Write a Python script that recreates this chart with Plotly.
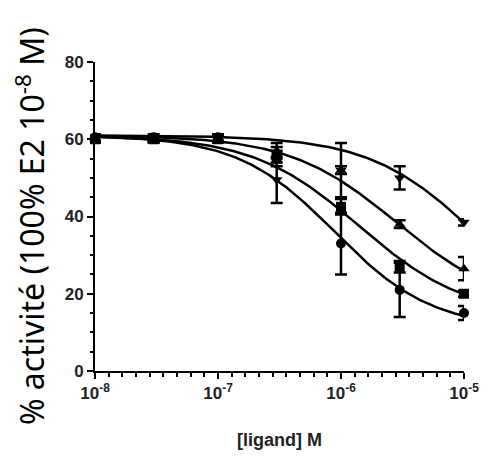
import numpy as np
import plotly.graph_objects as go

# concentrations (M)
conc = [1e-8, 3e-8, 1e-7, 3e-7, 1e-6, 3e-6, 1e-5]

# mean % activity and SEM for each ligand series
circle_y = [60.5, 60.5, 60.5, 56.0, 33.0, 21.0, 15.0]
circle_err = [0.8, 0.8, 0.8, 2.0, 8.0, 7.0, 1.8]
square_y = [60.0, 60.0, 60.0, 55.0, 42.5, 27.0, 20.0]
square_err = [0.8, 0.8, 0.8, 2.0, 2.0, 1.5, 0.8]
tri_up_y = [60.0, 60.0, 60.0, 57.0, 52.0, 38.0, 26.5]
tri_up_err = [0.8, 0.8, 0.8, 2.0, 7.0, 1.0, 3.0]
tri_down_y = [60.0, 60.0, 60.0, 49.5, 52.0, 50.0, 38.5]
tri_down_err = [0.8, 0.8, 0.8, 6.0, 1.0, 3.0, 0.8]

# fitted 4-parameter logistic parameters: top, bottom, logIC50, hill slope
circle_fit = (61.0, 11.0, -6.05, 1.1)
square_fit = (61.0, 14.0, -5.85, 1.0)
tri_up_fit = (61.0, 16.0, -5.55, 1.0)
tri_down_fit = (61.0, 10.0, -4.9, 1.0)

x_ticks = [-8, -7, -6, -5]
x_tick_text = ["10<sup>-8</sup>", "10<sup>-7</sup>", "10<sup>-6</sup>", "10<sup>-5</sup>"]
y_ticks = [0, 20, 40, 60, 80]

series = [
    ("circle", circle_y, circle_err, circle_fit),
    ("square", square_y, square_err, square_fit),
    ("triangle-up", tri_up_y, tri_up_err, tri_up_fit),
    ("triangle-down", tri_down_y, tri_down_err, tri_down_fit),
]

logx = np.log10(conc)
xs = np.linspace(-8, -5, 200)

fig = go.Figure()
for sym, y, err, (top, bot, lic, h) in series:
    curve = bot + (top - bot) / (1 + 10 ** ((xs - lic) * h))
    fig.add_trace(go.Scatter(x=xs, y=curve, mode="lines",
                             line=dict(color="black", width=2.5),
                             showlegend=False, hoverinfo="skip", cliponaxis=False))
for sym, y, err, fit in series:
    fig.add_trace(go.Scatter(
        x=logx, y=y, mode="markers",
        marker=dict(symbol=sym, size=10, color="black"),
        error_y=dict(type="data", array=err, visible=True, color="black",
                     thickness=2.5, width=6),
        showlegend=False, cliponaxis=False))

tickfont = dict(family="Liberation Sans", size=17, color="#222", weight="bold")

fig.update_layout(
    width=483, height=454,
    margin=dict(l=87, r=25, t=54, b=91),
    plot_bgcolor="white", paper_bgcolor="white",
    xaxis=dict(range=[-8, -5], tickmode="array", tickvals=x_ticks, ticktext=x_tick_text,
               showgrid=False, zeroline=False, showline=True, linecolor="black", linewidth=2,
               ticks="outside", ticklen=6, tickwidth=2, tickcolor="black", tickfont=tickfont,
               minor=dict(tick0=-8, dtick=1/9, ticks="outside", ticklen=4, tickwidth=2,
                          tickcolor="black", showgrid=False)),
    yaxis=dict(range=[0, 80], tickmode="array", tickvals=y_ticks,
               showgrid=False, zeroline=False, showline=True, linecolor="black", linewidth=2,
               ticks="outside", ticklen=6, tickwidth=2, tickcolor="black", tickfont=tickfont,
               minor=dict(tick0=0, dtick=5, ticks="outside", ticklen=3, tickwidth=2,
                          tickcolor="black", showgrid=False)),
    annotations=[
        dict(text="% activité (100% E2 10<sup>-8</sup> M)", xref="paper", yref="paper",
             x=-0.178, y=0.47, xanchor="center", yanchor="middle", textangle=-90,
             showarrow=False, borderpad=0,
             font=dict(family="Noto Sans", size=32, color="black")),
        dict(text="<b>[ligand] M</b>", xref="paper", yref="paper",
             x=0.5, y=-0.223, xanchor="center", yanchor="middle",
             showarrow=False, font=dict(family="Liberation Sans", size=18, color="#222")),
    ],
)

fig.write_html("out.html")
